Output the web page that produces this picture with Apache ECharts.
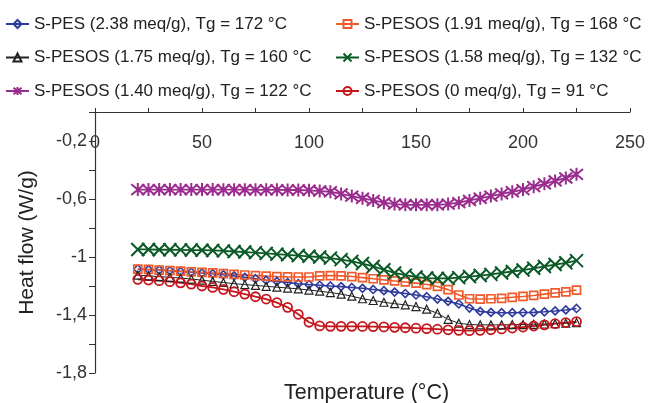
<!DOCTYPE html>
<html>
<head>
<meta charset="utf-8">
<script src="https://cdn.jsdelivr.net/npm/echarts@6/dist/echarts.min.js"></script>
<style>
html,body{margin:0;padding:0;background:#fff;}
#chart{width:649px;height:403px;}
</style>
</head>
<body>
<div id="chart"></div>
<script>
// Temperature (°C) sample points
var temperatures = [20,25,30,35,40,45,50,55,60,65,70,75,80,85,90,95,100,105,110,115,120,125,130,135,140,145,150,155,160,165,170,175,180,185,190,195,200,205,210,215,220,225];

var seriesNames = [
  'S-PES (2.38 meq/g), Tg = 172 °C',
  'S-PESOS (1.91 meq/g), Tg = 168 °C',
  'S-PESOS (1.75 meq/g), Tg = 160 °C',
  'S-PESOS (1.58 meq/g), Tg = 132 °C',
  'S-PESOS (1.40 meq/g), Tg = 122 °C',
  'S-PESOS (0 meq/g), Tg = 91 °C'
];

var spes238 = [-1.083,-1.087,-1.09,-1.095,-1.1,-1.105,-1.11,-1.115,-1.122,-1.13,-1.14,-1.15,-1.16,-1.168,-1.176,-1.184,-1.19,-1.195,-1.2,-1.204,-1.21,-1.216,-1.224,-1.232,-1.242,-1.252,-1.262,-1.274,-1.29,-1.306,-1.324,-1.352,-1.375,-1.382,-1.384,-1.384,-1.383,-1.382,-1.378,-1.372,-1.365,-1.355];
var spesos191 = [-1.083,-1.086,-1.09,-1.094,-1.098,-1.102,-1.106,-1.11,-1.115,-1.12,-1.124,-1.128,-1.132,-1.135,-1.137,-1.138,-1.138,-1.13,-1.128,-1.13,-1.135,-1.142,-1.15,-1.158,-1.165,-1.172,-1.18,-1.19,-1.203,-1.225,-1.262,-1.288,-1.29,-1.288,-1.285,-1.278,-1.272,-1.265,-1.256,-1.248,-1.24,-1.228];
var spesos175 = [-1.125,-1.13,-1.135,-1.14,-1.145,-1.152,-1.16,-1.168,-1.176,-1.184,-1.19,-1.196,-1.202,-1.208,-1.214,-1.22,-1.228,-1.236,-1.245,-1.256,-1.27,-1.288,-1.3,-1.312,-1.322,-1.33,-1.342,-1.36,-1.388,-1.43,-1.457,-1.466,-1.468,-1.468,-1.468,-1.467,-1.466,-1.464,-1.462,-1.46,-1.457,-1.452];
var spesos158 = [-0.948,-0.948,-0.95,-0.95,-0.951,-0.952,-0.953,-0.955,-0.958,-0.962,-0.966,-0.97,-0.975,-0.98,-0.985,-0.99,-0.995,-1.0,-1.008,-1.018,-1.03,-1.045,-1.065,-1.088,-1.11,-1.125,-1.138,-1.145,-1.148,-1.148,-1.142,-1.135,-1.128,-1.12,-1.11,-1.1,-1.09,-1.078,-1.065,-1.052,-1.04,-1.025];
var spesos140 = [-0.535,-0.535,-0.535,-0.535,-0.535,-0.535,-0.535,-0.535,-0.536,-0.536,-0.536,-0.537,-0.537,-0.537,-0.538,-0.538,-0.54,-0.545,-0.55,-0.565,-0.58,-0.595,-0.61,-0.625,-0.635,-0.64,-0.64,-0.64,-0.64,-0.635,-0.625,-0.61,-0.595,-0.58,-0.565,-0.55,-0.535,-0.515,-0.495,-0.475,-0.455,-0.43];
var spesos0 = [-1.154,-1.159,-1.163,-1.17,-1.178,-1.187,-1.2,-1.21,-1.223,-1.239,-1.256,-1.274,-1.29,-1.315,-1.347,-1.395,-1.45,-1.475,-1.478,-1.478,-1.478,-1.479,-1.48,-1.482,-1.485,-1.488,-1.491,-1.494,-1.498,-1.502,-1.506,-1.508,-1.506,-1.502,-1.496,-1.49,-1.483,-1.476,-1.468,-1.46,-1.452,-1.445];

var xTickLabels = ['0','50','100','150','200','250'];
var yTickLabels = ['-1,8','-1,4','-1','-0,6','-0,2'];

var FONT = 'Liberation Sans, Arial, Helvetica, sans-serif';

function pairs(vals){ return temperatures.map(function(t,i){ return [t, vals[i]]; }); }

var X_PATH = 'path://M0,0L10,10M10,0L0,10';
var STAR_PATH = 'path://M0,0L10,10M10,0L0,10M5,-1L5,11';

var styles = [
  {color:'#2e3a9c', symbol:'diamond', size:8, lw:1.6, bw:1.6},
  {color:'#f15a2b', symbol:'rect', size:8, lw:1.6, bw:1.7},
  {color:'#222222', symbol:'triangle', size:8, lw:1.0, bw:1.2},
  {color:'#0b5a26', symbol:X_PATH, size:13, lw:1.8, bw:2},
  {color:'#9a2c8e', symbol:STAR_PATH, size:13, lw:1.8, bw:2},
  {color:'#c4161c', symbol:'circle', size:9, lw:1.8, bw:1.8}
];
var datasets = [spes238, spesos191, spesos175, spesos158, spesos140, spesos0];

var series = datasets.map(function(d, i){
  var s = styles[i];
  return {
    name: seriesNames[i],
    type: 'line',
    data: pairs(d),
    symbol: s.symbol,
    symbolSize: s.size,
    showAllSymbol: true,
    animation: false,
    lineStyle: {color: s.color, width: s.lw},
    itemStyle: {color: 'rgba(255,255,255,0)', borderColor: s.color, borderWidth: s.bw},
    emphasis: {disabled: true}
  };
});

var legendBase = {
  orient: 'vertical', top: 15, padding: 0,
  itemWidth: 23, itemHeight: 10, itemGap: 15.5,
  textStyle: {fontFamily: FONT, fontSize: 17, color: '#222', lineHeight: 18}
};

var chart = echarts.init(document.getElementById('chart'), null, {renderer:'canvas'});
chart.setOption({
  backgroundColor: '#ffffff',
  animation: false,
  title: {
    text: 'Temperature (°C)',
    left: 284, top: 382, padding: 0,
    textStyle: {fontFamily: FONT, fontSize: 21.5, fontWeight: 'normal', color: '#222'}
  },
  legend: [
    Object.assign({}, legendBase, {data: [seriesNames[0], seriesNames[2], seriesNames[4]], left: 5}),
    Object.assign({}, legendBase, {data: [seriesNames[1], seriesNames[3], seriesNames[5]], left: 335})
  ],
  grid: {left: 95, right: 19, top: 112, bottom: 30, containLabel: false},
  xAxis: {
    type: 'value',
    position: 'top',
    min: 0, max: 250, interval: 25,
    axisLine: {show: true, lineStyle: {color: '#333', width: 1.2}},
    axisTick: {show: true, inside: false, length: 4, lineStyle: {color: '#333'}},
    axisLabel: {
      inside: true, margin: 22,
      fontFamily: FONT, fontSize: 18, color: '#333',
      formatter: function(v){ var k = Math.round(v); return (k % 50 === 0) ? xTickLabels[k/50] : ''; }
    },
    splitLine: {show: false}
  },
  yAxis: {
    type: 'value',
    min: -1.8, max: 0, interval: 0.2,
    name: 'Heat flow (W/g)',
    nameLocation: 'middle', nameGap: 57, nameRotate: 90,
    nameTextStyle: {fontFamily: FONT, fontSize: 21, color: '#222'},
    axisLine: {show: true, lineStyle: {color: '#333', width: 1.2}},
    axisTick: {show: true, inside: false, length: 6, lineStyle: {color: '#333'}},
    axisLabel: {
      margin: 8, fontFamily: FONT, fontSize: 18, color: '#333',
      formatter: function(v){
        var k = Math.round(v*10);
        if ((k + 18) % 4 !== 0) return '';
        var idx = (k + 18) / 4;
        return yTickLabels[idx] || '';
      }
    },
    splitLine: {show: false}
  },
  series: series
});
</script>
</body>
</html>
